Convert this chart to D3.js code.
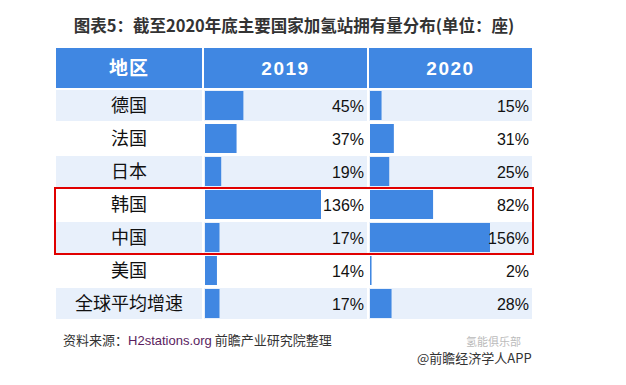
<!DOCTYPE html>
<html>
<head>
<meta charset="utf-8">
<script src="https://cdn.jsdelivr.net/npm/d3@7"></script>
<style>
  body { margin: 0; background: #fff; }
  svg { display: block; }
</style>
</head>
<body>
<div id="chart"></div>
<script>
// data
var title = "图表5：截至2020年底主要国家加氢站拥有量分布(单位：座)";
var headers = ["地区", "2019", "2020"];
var regions = ["德国", "法国", "日本", "韩国", "中国", "美国", "全球平均增速"];
var v2019 = [45, 37, 19, 136, 17, 14, 17];
var v2020 = [15, 31, 25, 82, 156, 2, 28];
var highlighted = ["韩国", "中国"];

var width = 626, height = 385;
var blue = "#4087e2", light = "#e8f0fb";
var cjk = "'Noto Sans CJK SC', 'Noto Sans', sans-serif";
var latin = "'Liberation Sans', Arial, sans-serif";

var svg = d3.select("#chart").append("svg")
    .attr("width", width)
    .attr("height", height);

// columns
var cols = [
  {x0: 56, x1: 202},
  {x0: 204, x1: 367},
  {x0: 369, x1: 532}
];

var y = d3.scaleBand()
    .domain(regions)
    .range([90, 90 + 33 * regions.length]);

var x19 = d3.scaleLinear().domain([0, d3.max(v2019)]).range([0, 116]);
var x20 = d3.scaleLinear().domain([0, d3.max(v2020)]).range([0, 120]);

// title
svg.append("text")
    .attr("x", 294)
    .attr("y", 32)
    .attr("text-anchor", "middle")
    .style("font-family", cjk)
    .style("font-size", "16.5px")
    .style("font-weight", "bold")
    .style("fill", "#333")
    .text(title);

// header
var head = svg.append("g");
head.selectAll("rect")
    .data(cols)
    .enter().append("rect")
    .attr("x", function(d) { return d.x0; })
    .attr("y", 48)
    .attr("width", function(d) { return d.x1 - d.x0; })
    .attr("height", 40)
    .attr("fill", blue);

head.selectAll("text")
    .data(headers)
    .enter().append("text")
    .attr("x", function(d, i) { return (cols[i].x0 + cols[i].x1) / 2; })
    .attr("y", 75)
    .attr("text-anchor", "middle")
    .style("font-family", function(d, i) { return i == 0 ? cjk : latin; })
    .style("font-size", "19px")
    .style("letter-spacing", function(d, i) { return i == 0 ? "1px" : "1.5px"; })
    .style("font-weight", "bold")
    .style("fill", "#fff")
    .text(function(d) { return d; });

// row backgrounds
var rows = svg.append("g").selectAll("g")
    .data(regions)
    .enter().append("g")
    .attr("transform", function(d) { return "translate(0," + y(d) + ")"; });

cols.forEach(function(c) {
  rows.append("rect")
      .attr("x", c.x0)
      .attr("width", c.x1 - c.x0)
      .attr("height", y.bandwidth() - 2)
      .attr("fill", function(d, i) { return i % 2 == 0 ? light : "#fff"; });
});

// labels
rows.append("text")
    .attr("x", (cols[0].x0 + cols[0].x1) / 2)
    .attr("y", 22)
    .attr("text-anchor", "middle")
    .style("font-family", cjk)
    .style("font-size", "18px")
    .style("fill", "#111")
    .text(function(d) { return d; });

// bars
rows.append("rect")
    .attr("x", 205)
    .attr("y", 1)
    .attr("height", y.bandwidth() - 4)
    .attr("width", function(d, i) { return x19(v2019[i]); })
    .attr("fill", blue);

rows.append("rect")
    .attr("x", 370)
    .attr("y", 1)
    .attr("height", y.bandwidth() - 4)
    .attr("width", function(d, i) { return x20(v2020[i]); })
    .attr("fill", blue);

// values
rows.append("text")
    .attr("x", 364)
    .attr("y", 22)
    .attr("text-anchor", "end")
    .style("font-family", latin)
    .style("font-size", "16px")
    .style("fill", "#111")
    .text(function(d, i) { return v2019[i] + "%"; });

rows.append("text")
    .attr("x", 529)
    .attr("y", 22)
    .attr("text-anchor", "end")
    .style("font-family", latin)
    .style("font-size", "16px")
    .style("fill", "#111")
    .text(function(d, i) { return v2020[i] + "%"; });

// highlight box
var hy0 = y(highlighted[0]), hy1 = y(highlighted[highlighted.length - 1]) + y.bandwidth() - 2;
svg.append("rect")
    .attr("x", 55)
    .attr("y", hy0 - 1)
    .attr("width", 478)
    .attr("height", hy1 - hy0 + 2)
    .attr("fill", "none")
    .attr("stroke", "#e00000")
    .attr("stroke-width", 2);

// source
var src = svg.append("text")
    .attr("x", 63)
    .attr("y", 345)
    .style("font-family", cjk)
    .style("font-size", "13px")
    .style("fill", "#333");
src.append("tspan").text("资料来源：");
src.append("tspan").style("font-family", latin).style("fill", "#5a1d5e").text("H2stations.org");
src.append("tspan").text(" 前瞻产业研究院整理");

// watermark footer
svg.append("text")
    .attr("x", 466)
    .attr("y", 346)
    .style("font-family", cjk)
    .style("font-size", "11px")
    .style("fill", "#bbb")
    .text("氢能俱乐部");

svg.append("text")
    .attr("x", 417)
    .attr("y", 363)
    .style("font-family", cjk)
    .style("font-size", "13px")
    .style("fill", "#333")
    .text("@前瞻经济学人APP");
</script>
</body>
</html>
